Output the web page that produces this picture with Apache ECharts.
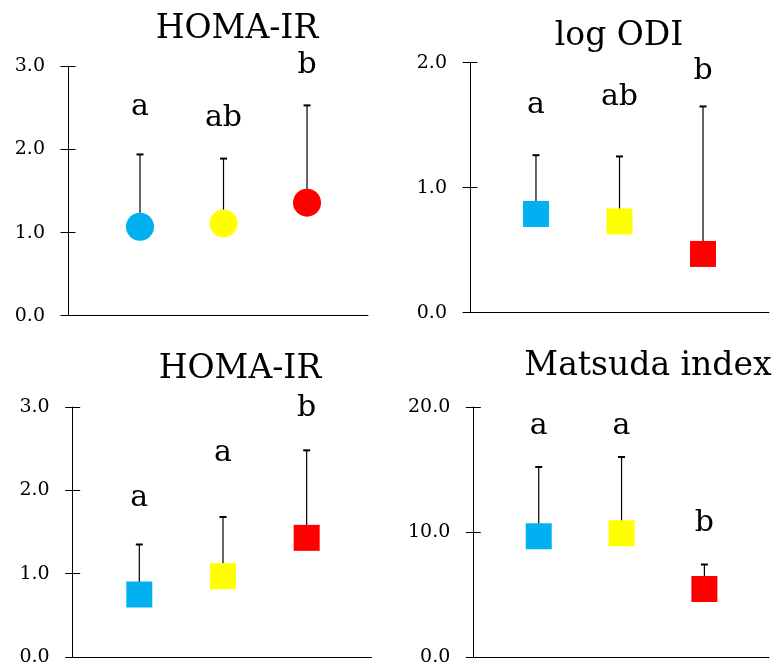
<!DOCTYPE html>
<html>
<head>
<meta charset="utf-8">
<script src="https://cdn.jsdelivr.net/npm/echarts@6/dist/echarts.min.js"></script>
<style>
  html, body { margin: 0; padding: 0; background: #fff; }
  #chart { width: 772px; height: 669px; }
</style>
</head>
<body>
<div id="chart"></div>
<script>
const groups = [1, 2, 3];

// top left: HOMA-IR
const homaTopMean = [1.07, 1.11, 1.36];
const homaTopUpper = [1.94, 1.89, 2.53];
const homaTopLetters = ['a', 'ab', 'b'];
const homaTopLetterY = [2.51, 2.37, 3.01];
const homaTopTicks = [0, 1, 2, 3];

// top right: log ODI
const odiMean = [0.79, 0.73, 0.47];
const odiUpper = [1.26, 1.25, 1.65];
const odiLetters = ['a', 'ab', 'b'];
const odiLetterY = [1.66, 1.72, 1.93];
const odiTicks = [0, 1, 2];

// bottom left: HOMA-IR
const homaBotMean = [0.75, 0.97, 1.43];
const homaBotUpper = [1.35, 1.68, 2.48];
const homaBotLetters = ['a', 'a', 'b'];
const homaBotLetterY = [1.91, 2.45, 2.98];
const homaBotTicks = [0, 1, 2, 3];

// bottom right: Matsuda index
const matsudaMean = [9.66, 9.9, 5.44];
const matsudaUpper = [15.2, 16.0, 7.4];
const matsudaLetters = ['a', 'a', 'b'];
const matsudaLetterY = [18.45, 18.45, 10.7];
const matsudaTicks = [0, 10, 20];

const colors = ['#00B0F0', '#FFFF00', '#FF0000'];
const font = 'DejaVu Serif';

const panels = [
  { title: 'HOMA-IR', mean: homaTopMean, upper: homaTopUpper, letters: homaTopLetters, letterY: homaTopLetterY, ticks: homaTopTicks,
    grid: { left: 68, right: 404, top: 66.3, height: 249.4 }, xr: [0.138, 3.73], symbol: 'circle', size: 28, tx: 232, ty: 8 },
  { title: 'log ODI', mean: odiMean, upper: odiUpper, letters: odiLetters, letterY: odiLetterY, ticks: odiTicks,
    grid: { left: 470, right: 3, top: 62.7, height: 250 }, xr: [0.21, 3.79], symbol: 'rect', size: 26, tx: 614, ty: 15 },
  { title: 'HOMA-IR', mean: homaBotMean, upper: homaBotUpper, letters: homaBotLetters, letterY: homaBotLetterY, ticks: homaBotTicks,
    grid: { left: 72.7, right: 400.3, top: 407, height: 250 }, xr: [0.204, 3.777], symbol: 'rect', size: 26, tx: 235, ty: 348 },
  { title: 'Matsuda index', mean: matsudaMean, upper: matsudaUpper, letters: matsudaLetters, letterY: matsudaLetterY, ticks: matsudaTicks,
    grid: { left: 473.3, right: 3, top: 407, height: 250 }, xr: [0.21, 3.78], symbol: 'rect', size: 26, tx: 643, ty: 345 }
];

const option = {
  animation: false,
  backgroundColor: '#fff',
  title: [],
  grid: [],
  xAxis: [],
  yAxis: [],
  series: []
};

panels.forEach((p, i) => {
  const ymin = p.ticks[0];
  const ymax = p.ticks[p.ticks.length - 1];
  const step = p.ticks[1] - p.ticks[0];

  option.title.push({
    text: p.title, left: p.tx, top: p.ty, textAlign: 'center',
    textStyle: { fontFamily: font, fontSize: 33, fontWeight: 'normal', color: '#000' }
  });
  option.grid.push(p.grid);
  option.xAxis.push({
    type: 'value', gridIndex: i, min: p.xr[0], max: p.xr[1],
    axisLine: { show: true, onZero: false, lineStyle: { color: '#000', width: 1 } },
    axisTick: { show: false }, axisLabel: { show: false }, splitLine: { show: false }
  });
  // outer ticks + labels
  option.yAxis.push({
    type: 'value', gridIndex: i, position: 'left', min: ymin, max: ymax, interval: step,
    axisLine: { show: true, lineStyle: { color: '#000', width: 1 } },
    axisTick: { show: true, length: 7.5, lineStyle: { color: '#000', width: 1 } },
    axisLabel: { margin: 23, fontFamily: font, fontSize: 19, color: '#000', formatter: v => v.toFixed(1) },
    splitLine: { show: false }
  });
  // inner half of the crossing ticks
  option.yAxis.push({
    type: 'value', gridIndex: i, position: 'left', min: ymin, max: ymax, interval: step,
    axisLine: { show: false },
    axisTick: { show: true, inside: true, length: 7.5, lineStyle: { color: '#000', width: 1 } },
    axisLabel: { show: false }, splitLine: { show: false }
  });
  const yIdx = i * 2;

  option.series.push({
    type: 'custom', xAxisIndex: i, yAxisIndex: yIdx, z: 1, clip: false,
    data: groups.map((g, k) => [g, p.mean[k], p.upper[k]]),
    encode: { x: 0, y: [1, 2] },
    renderItem: (params, api) => {
      const lo = api.coord([api.value(0), api.value(1)]);
      const hi = api.coord([api.value(0), api.value(2)]);
      return {
        type: 'group',
        children: [
          { type: 'line', shape: { x1: lo[0], y1: lo[1], x2: hi[0], y2: hi[1] }, style: { stroke: '#000', lineWidth: 1.2 } },
          { type: 'line', shape: { x1: hi[0] - 3.5, y1: hi[1], x2: hi[0] + 3.5, y2: hi[1] }, style: { stroke: '#000', lineWidth: 2 } }
        ]
      };
    }
  });
  option.series.push({
    type: 'scatter', xAxisIndex: i, yAxisIndex: yIdx, z: 3, clip: false,
    symbol: p.symbol, symbolSize: p.size,
    data: groups.map((g, k) => ({ value: [g, p.mean[k]], itemStyle: { color: colors[k], opacity: 1 } }))
  });
  option.series.push({
    type: 'scatter', xAxisIndex: i, yAxisIndex: yIdx, z: 4, clip: false,
    symbol: 'circle', symbolSize: 0, itemStyle: { opacity: 1 },
    data: groups.map((g, k) => [g, p.letterY[k], p.letters[k]]),
    label: {
      show: true, position: 'inside', formatter: d => d.data[2],
      fontFamily: font, fontSize: 30, color: '#000', opacity: 1
    }
  });
});

const chart = echarts.init(document.getElementById('chart'));
chart.setOption(option);
</script>
</body>
</html>
